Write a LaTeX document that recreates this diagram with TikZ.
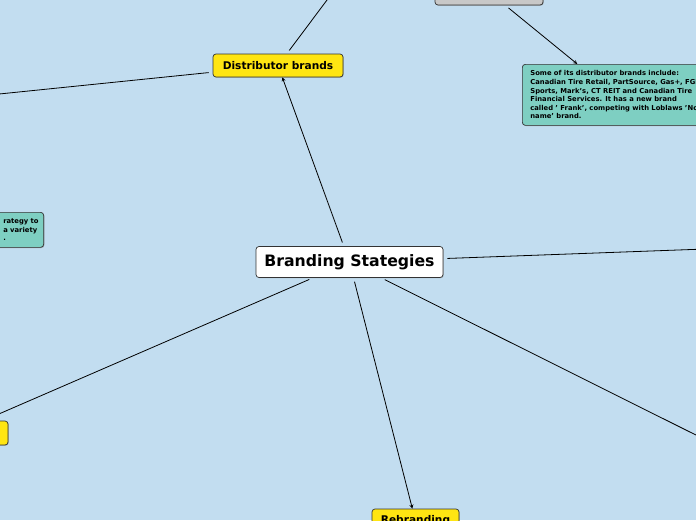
\documentclass[tikz,border=0pt]{standalone}
\usepackage{fontspec}
\setmainfont{DejaVu Sans}
\usetikzlibrary{shapes,arrows,shadows}
\definecolor{mapbg}{HTML}{C2DDF0}
\definecolor{mainyellow}{HTML}{FFE512}
\definecolor{noteteal}{HTML}{7ECFC2}
\definecolor{boxgray}{HTML}{C8C8C8}
\tikzstyle{topic}=[draw=black!80, line width=0.7pt, rounded corners=3pt, inner sep=0pt, font=\bfseries,
    drop shadow={shadow xshift=0.7pt, shadow yshift=-0.7pt, opacity=0.6}]
\tikzstyle{note}=[topic, fill=noteteal, align=left, font=\bfseries\fontsize{6.8}{8.6}\selectfont]
\tikzstyle{link}=[shorten <=4pt]
\tikzstyle{myarrow}=[link, ->, >=stealth]

\begin{document}
\begin{tikzpicture}[x=1pt, y=-1pt, line width=0.8pt]
    \useasboundingbox (0,0) rectangle (696,520) ;
    \fill[mapbg] (0,0) rectangle (696,520) ;
    \clip (0,0) rectangle (696,520) ;
    % main topic and its branches
    \node[topic, fill=white, minimum width=187, minimum height=31, font=\bfseries\fontsize{15.7}{18}\selectfont]
        (central) at (349.5, 262) {Branding Stategies} ;
    \node[topic, fill=mainyellow, minimum width=130, minimum height=23, font=\bfseries\fontsize{10.6}{12}\selectfont]
        (distrib) at (278, 65.5) {Distributor brands} ;
    \node[topic, fill=mainyellow, minimum width=87, minimum height=24, font=\bfseries\fontsize{10.6}{12}\selectfont]
        (rebrand) at (415.5, 521) {Rebranding} ;
    \node[topic, fill=mainyellow, minimum width=106, minimum height=24] (leftbrand) at (-45, 433) {} ;
    \node[topic, fill=boxgray, minimum width=108, minimum height=26] (graybox) at (489, -8) {} ;
    % notes
    \node[note, anchor=north west, minimum height=61, inner xsep=8pt]
        (distribnote) at (522, 64)
        {Some of its distributor brands include:\\
         Canadian Tire Retail, PartSource, Gas+, FGL\\
         Sports, Mark's, CT REIT and Canadian Tire\\
         Financial Services. It has a new brand\\
         called ' Frank', competing with Loblaws 'No\\
         name' brand.} ;
    \node[note, anchor=north east, minimum height=35, inner xsep=5pt]
        (leftnote) at (44, 212)
        {\hspace*{150pt}rategy to\\\hspace*{150pt}a variety\\\hspace*{150pt}.} ;
    % branches leaving the picture
    \coordinate (uptail) at (342, -20) ;
    \coordinate (leftend) at (-40, 98) ;
    \coordinate (rightend) at (760, 247) ;
    \coordinate (lowright) at (760, 467) ;
    % connectors
    \draw[myarrow] (central) -- (distrib) ;
    \draw[myarrow] (central) -- (rebrand) ;
    \draw[link] (central) -- (leftbrand) ;
    \draw[link] (central) -- (rightend) ;
    \draw[link] (central) -- (lowright) ;
    \draw[link] (distrib) -- (uptail) ;
    \draw[link] (distrib) -- (leftend) ;
    \draw[myarrow] (graybox) -- (distribnote) ;
\end{tikzpicture}
\end{document}
